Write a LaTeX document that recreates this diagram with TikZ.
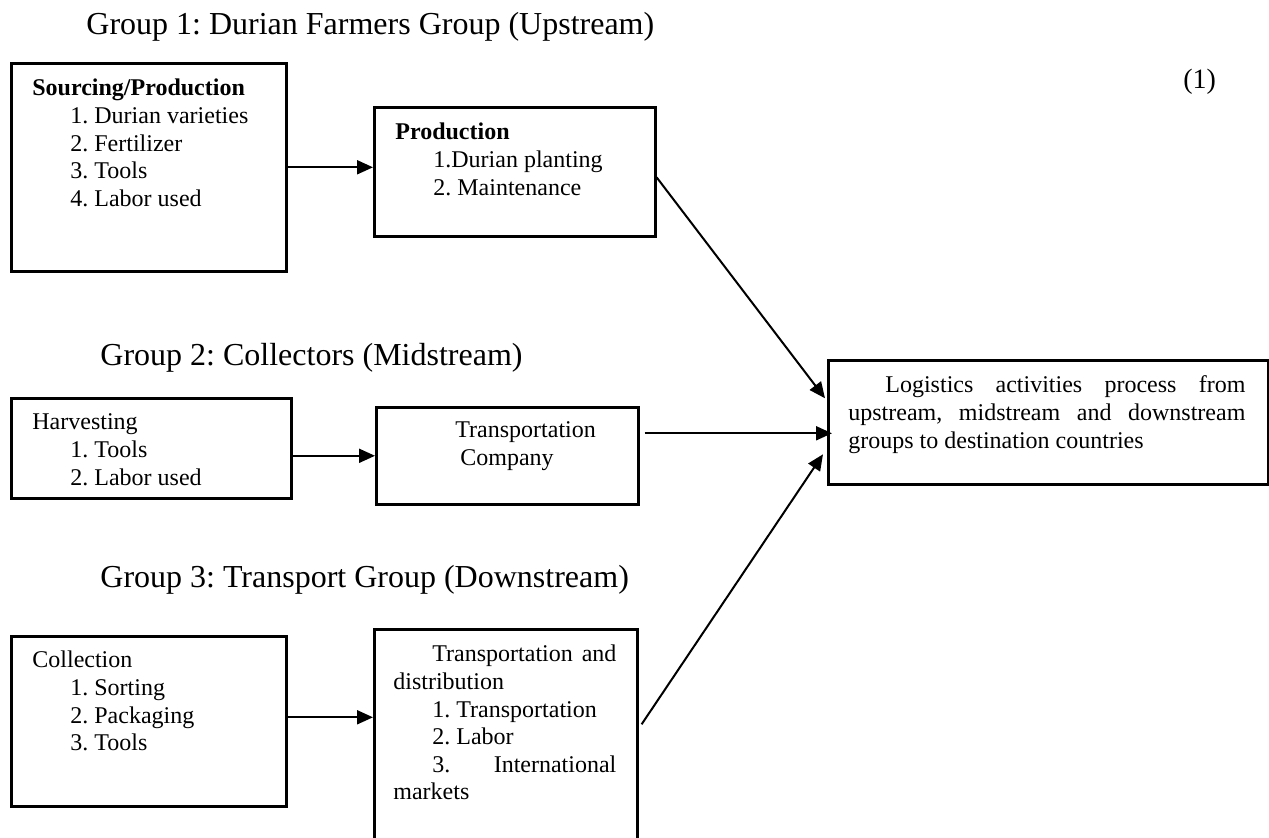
\documentclass[tikz,border=0pt]{standalone}
\usepackage{fontspec}
\setmainfont{Liberation Serif}
\usetikzlibrary{arrows.meta}
\frenchspacing

\tikzset{
  blk/.style={draw, line width=1.3pt, anchor=north west, inner sep=0pt},
  txt/.style={anchor=base west, inner sep=0pt, font=\fontsize{12}{13.8}\selectfont},
  grp/.style={anchor=base west, inner sep=0pt, font=\fontsize{16}{19}\selectfont},
  arr/.style={-{Triangle[length=8pt,width=7pt]}, line width=1pt}
}
\newcommand{\ind}{\hspace*{19pt}}

\begin{document}
\begin{tikzpicture}[x=0.5pt, y=-0.5pt]
  \useasboundingbox (0,0) rectangle (1269,838);
  \clip (0,0) rectangle (1269,838);

  % group headings
  \node[grp] (grp1) at (86,35) {Group 1: Durian Farmers Group (Upstream)};
  \node[grp] (grp2) at (100,366) {Group 2: Collectors (Midstream)};
  \node[grp] (grp3) at (100,588) {Group 3: Transport Group (Downstream)};
  \node[txt, font=\fontsize{14}{16}\selectfont] (eqno) at (1183,89) {(1)};

  % boxes
  \node[blk, minimum width=137.5pt, minimum height=104pt] (src) at (10,62) {};
  \node[blk, minimum width=140.5pt, minimum height=64.5pt] (prod) at (373,106) {};
  \node[blk, minimum width=140pt, minimum height=50pt] (harv) at (10,397) {};
  \node[blk, minimum width=131pt, minimum height=48.5pt] (trans) at (375,406) {};
  \node[blk, minimum width=220pt, minimum height=62pt] (logi) at (827,359) {};
  \node[blk, minimum width=137.5pt, minimum height=85pt] (coll) at (10,635) {};
  \node[blk, minimum width=131.5pt, minimum height=111pt] (dist) at (373,628) {};

  % box texts
  \node[txt] (srctxt) at (32,96) {\begin{tabular}[t]{@{}l@{}}
    \textbf{Sourcing/Production}\\ \ind 1. Durian varieties\\ \ind 2. Fertilizer\\
    \ind 3. Tools\\ \ind 4. Labor used\end{tabular}};
  \node[txt] (prodtxt) at (395,140) {\begin{tabular}[t]{@{}l@{}}
    \textbf{Production}\\ \ind 1.Durian planting\\ \ind 2. Maintenance\end{tabular}};
  \node[txt] (harvtxt) at (32,430) {\begin{tabular}[t]{@{}l@{}}
    Harvesting\\ \ind 1. Tools\\ \ind 2. Labor used\end{tabular}};
  \node[txt] (transtxt) at (455,438) {\begin{tabular}[t]{@{}l@{}}
    Transportation\\ \hspace*{2.5pt}Company\end{tabular}};
  \node[txt] (logitxt) at (848,393) {\begin{tabular}[t]{@{}l@{}}
    \makebox[198.5pt][s]{\hspace*{18.5pt}Logistics activities process from}\\
    \makebox[198.5pt][s]{upstream, midstream and downstream}\\
    groups to destination countries\end{tabular}};
  \node[txt] (colltxt) at (32,668) {\begin{tabular}[t]{@{}l@{}}
    Collection\\ \ind 1. Sorting\\ \ind 2. Packaging\\ \ind 3. Tools\end{tabular}};
  \node[txt] (disttxt) at (393,662) {\begin{tabular}[t]{@{}l@{}}
    \makebox[111.5pt][s]{\hspace*{19.5pt}Transportation and}\\
    distribution\\ \hspace*{19.5pt}1. Transportation\\ \hspace*{19.5pt}2. Labor\\
    \makebox[111.5pt][s]{\hspace*{19.5pt}3. International}\\ markets\end{tabular}};

  % connectors
  \draw[arr] (src.east) -- (src.east -| prod.west);
  \draw[arr] ([yshift=-2.75pt]prod.east) -- ([xshift=-1pt,yshift=12pt]logi.west);
  \draw[arr] (harv.east |- trans.west) -- (trans.west);
  \draw[arr] ([xshift=2.5pt,yshift=11.25pt]trans.east) -- ([xshift=2.5pt,yshift=11.25pt]trans.east -| logi.west);
  \draw[arr] ([yshift=2pt]coll.east) -- ([yshift=2pt]coll.east -| dist.west);
  \draw[arr] ([xshift=1.5pt,yshift=8pt]dist.east) -- ([xshift=-2pt,yshift=-16pt]logi.west);
\end{tikzpicture}
\end{document}
